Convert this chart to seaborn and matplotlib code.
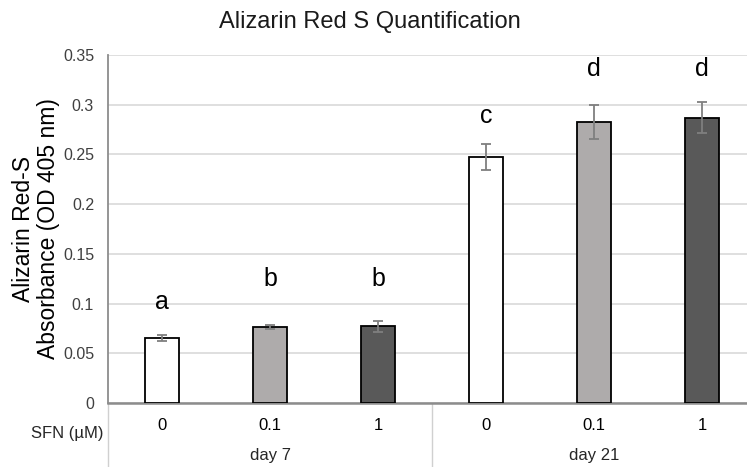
"""
Alizarin Red S quantification bar chart (day 7 / day 21, SFN doses).
"""

import seaborn as sns
import matplotlib.pyplot as plt
import matplotlib.transforms as mtransforms
import pandas as pd

# Data
DAYS = ['day 7', 'day 7', 'day 7', 'day 21', 'day 21', 'day 21']
SFN_DOSES = ['0', '0.1', '1', '0', '0.1', '1']
ABSORBANCE = [0.065, 0.0765, 0.077, 0.2475, 0.2825, 0.287]
ERRORS = [0.003, 0.0023, 0.0057, 0.013, 0.0172, 0.0158]
LETTERS = ['a', 'b', 'b', 'c', 'd', 'd']
LETTER_Y = [0.102, 0.125, 0.125, 0.289, 0.336, 0.336]
GROUP_NAMES = ['day 7', 'day 21']

DOSE_COLORS = {'0': '#ffffff', '0.1': '#aeaaaa', '1': '#595959'}

sns.set_style('white')
plt.rcParams['font.family'] = ['Liberation Sans', 'DejaVu Sans']


def main():
    df = pd.DataFrame({
        'key': [f'{d}|{s}' for d, s in zip(DAYS, SFN_DOSES)],
        'dose': SFN_DOSES,
        'value': ABSORBANCE,
    })

    fig = plt.figure(figsize=(7.47, 4.67), dpi=100)
    ax = fig.add_axes([108 / 747, 1 - 403 / 467, 648 / 747, 348 / 467])

    sns.barplot(data=df, x='key', y='value', hue='dose', palette=DOSE_COLORS,
                dodge=False, width=0.32, edgecolor='black', linewidth=1.3,
                errorbar=None, legend=False, ax=ax, zorder=3)

    # Error bars
    ax.errorbar(range(len(ABSORBANCE)), ABSORBANCE, yerr=ERRORS, fmt='none',
                ecolor='#7f7f7f', elinewidth=1.3, capsize=3.5, capthick=1.3,
                zorder=4)

    # Significance letters
    for i, (letter, ly) in enumerate(zip(LETTERS, LETTER_Y)):
        ax.text(i, ly, letter, ha='center', va='center', fontsize=18,
                color='black')

    ax.set_xlim(-0.5, len(ABSORBANCE) - 0.5)
    ax.set_ylim(0, 0.35)
    ax.set_yticks([0, 0.05, 0.1, 0.15, 0.2, 0.25, 0.3, 0.35])
    ax.set_yticklabels(['0', '0.05', '0.1', '0.15', '0.2', '0.25', '0.3', '0.35'])
    ax.yaxis.grid(True, color='#d9d9d9', linewidth=1.2, zorder=0)
    ax.set_axisbelow(True)

    ax.set_xticks(range(len(SFN_DOSES)))
    ax.set_xticklabels(SFN_DOSES, fontsize=12)
    ax.tick_params(axis='x', length=0, pad=11, colors='black')
    ax.tick_params(axis='y', length=0, pad=10, labelsize=11.5, colors='#404040')
    ax.set_xlabel('')
    ax.set_ylabel('Alizarin Red-S\nAbsorbance (OD 405 nm)', fontsize=16.5,
                  linespacing=1.1, color='black')
    ax.yaxis.set_label_coords(-0.074, 0.5)

    for side in ['top', 'right']:
        ax.spines[side].set_visible(False)
    ax.spines['left'].set_color('#8c8c8c')
    ax.spines['left'].set_linewidth(1.3)
    ax.spines['bottom'].set_color('#8c8c8c')
    ax.spines['bottom'].set_linewidth(1.8)

    # Grouped category axis below
    trans = mtransforms.blended_transform_factory(ax.transData, ax.transAxes)
    for xb in [-0.5, 2.5, 5.5]:
        ax.plot([xb, xb], [0, -0.2], transform=trans, color='#d0d0d0',
                linewidth=1.0, clip_on=False)
    for g, name in enumerate(GROUP_NAMES):
        ax.text(g * 3 + 1, -0.152, name, transform=trans, ha='center',
                va='center', fontsize=12)
    ax.text(-0.063, -0.088, 'SFN (\u00b5M)', transform=ax.transAxes,
            ha='center', va='center', fontsize=12)

    fig.text(0.495, 1 - 22 / 467, 'Alizarin Red S Quantification',
             ha='center', va='center', fontsize=17, color='#1a1a1a')

    fig.savefig('out.png', dpi=100)
    plt.close(fig)


if __name__ == '__main__':
    main()
